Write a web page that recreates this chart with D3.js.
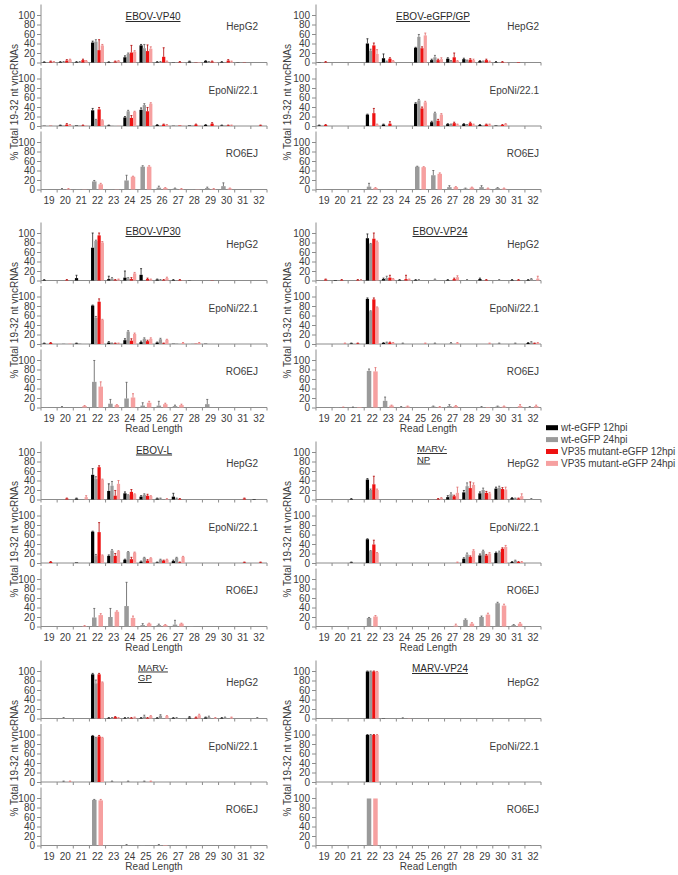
<!DOCTYPE html>
<html><head><meta charset="utf-8">
<script src="https://cdn.jsdelivr.net/npm/d3@7"></script>
<style>body{margin:0;background:#fff}</style>
</head><body><div id="chart"></div>
<script>
// ---------- DATA ----------
const categories = [19,20,21,22,23,24,25,26,27,28,29,30,31,32];
const seriesNames = ["wt-eGFP 12hpi","wt-eGFP 24hpi","VP35 mutant-eGFP 12hpi","VP35 mutant-eGFP 24hpi"];
const cellLines = ["HepG2","EpoNi/22.1","RO6EJ"];
const panelTitles = ["EBOV-VP40","EBOV-eGFP/GP","EBOV-VP30","EBOV-VP24","EBOV-L","MARV-NP","MARV-GP","MARV-VP24"];
const yTicks = [0,20,40,60,80,100];

// values: HepG2 / EpoNi = [wt12, wt24, mut12, mut24]; RO6EJ = [wt24, mut24]
const VP40_HepG2 = [
 [1,1,1,42,1,11,36,1,0.5,2,3,1,0.5,0],
 [0.5,1,1,44,0.5,18,30,1,0.5,1,1,1,0,0],
 [2,4,5,26,2,21,24,12,1,0.5,2,4,0.5,0],
 [1,6,3,36,3,23,29,2,0.5,1,1,2,0,0]];
const VP40_HepG2_err = [
 [0.5,1,1,3,0.5,3,2,1,0,1,1,1,0,0],
 [0,1,1,4,0,2,8,1,0,0,1,0,0,0],
 [1,2,2,22,1,15,13,19,1,0,1,2,0,0],
 [1,1,1,2,1,2,4,1,0,0,0,1,0,0]];
const VP40_EpoNi = [
 [0.5,1,1,33,1,18,34,2,0.5,1,2,1,0,0],
 [0,1,1,13,0.5,31,44,1,0.5,1,1,1,0,0],
 [0.5,3,1,35,0,17,31,3,1,3,5,1,0,1],
 [0,2,1,12,0.5,30,47,2,0.5,1,1,1,0,0]];
const VP40_EpoNi_err = [
 [0,1,0,4,1,2,4,1,0,0,1,1,0,0],
 [0,0,0,1,0,2,3,0,0,0,0,0,0,0],
 [0,2,1,4,0,5,8,1,0,1,2,1,0,1],
 [0,1,0,1,0,1,2,1,0,0,0,1,0,0]];
const VP40_RO6EJ = [
 [0.5,1,1,17,0.5,19,48,4,2,0.5,3,7,0,0],
 [0,1,0.5,11,0.5,27,48,3,1,0.5,1,2,0,0]];
const VP40_RO6EJ_err = [
 [0,1,0,2,0,11,2,3,1,0,2,7,0,0],
 [0,1,0,2,0,1,2,1,1,0,1,1,0,0]];

const GP_HepG2 = [
 [0.5,0,0,40,9,0,31,5,8,7,3,1,0,0],
 [0,0,0,25,2,0,54,11,3,4,2,1,0,0],
 [1,0,0,36,8,0,30,5,11,6,5,1,1,0],
 [0,0,0,18,3,0,57,7,3,5,2,1,0,0]];
const GP_HepG2_err = [
 [0,0,0,10,9,0,1,2,2,2,1,1,0,0],
 [0,0,0,3,1,0,5,4,1,1,1,0,0,0],
 [1,0,0,5,2,0,3,2,9,2,2,1,0,0],
 [0,0,0,9,1,0,5,3,1,2,1,0,0,0]];
const GP_EpoNi = [
 [1,0,0,24,3,0,47,8,4,4,2,1,0,0],
 [0.5,0,0,0.5,0,0,54,27,3,2,1,1,0,0],
 [2,0,0,27,5,0,37,11,6,6,3,2,0,0],
 [0,0,0,3,0,0,50,24,3,3,3,4,0,0]];
const GP_EpoNi_err = [
 [1,0,0,1,1,0,2,2,1,1,1,0,0,0],
 [0,0,0,0,0,0,2,2,1,1,0,0,0,0],
 [1,0,0,10,4,0,3,3,2,2,1,1,0,0],
 [0,0,0,1,0,0,2,2,1,1,1,1,0,0]];
const GP_RO6EJ = [
 [1,0,0,6,0.5,0,48,30,5,2,5,3,0,0],
 [0,0,0,3,0,0,47,33,5,4,2,2,0,0]];
const GP_RO6EJ_err = [
 [0,0,0,7,0,0,1,10,3,1,3,1,0,0],
 [0,0,0,1,0,0,1,2,1,1,1,1,0,0]];

const VP30_HepG2 = [
 [1,0,5,69,3,6,12,2,1,0.5,0,0,0,0],
 [0,0,0,83,4,4,0,1,0,0,0,0,0,0],
 [0,1,0,95,1,3,3,1,1,0,0.5,0,0,0],
 [0,0,0,80,2,15,2,5,0.5,0,0,0,0,0]];
const VP30_HepG2_err = [
 [1,0,6,31,6,14,13,1,1,0,0,0,0,0],
 [0,0,0,2,2,2,0,1,0,0,0,0,0,0],
 [0,1,0,5,1,3,2,1,1,0,0,0,0,0],
 [0,0,0,2,1,2,1,2,0,0,0,0,0,0]];
const VP30_EpoNi = [
 [1,0,1,81,3,8,4,3,0.5,0,0.5,0,0,0],
 [0,1,1,55,1,26,11,10,1,0.5,0,0,0,0],
 [2,0,0,89,1,7,6,1,0,0.5,0,0,0,0],
 [0,1,0,51,1,21,11,9,2,2,0,0,0,0]];
const VP30_EpoNi_err = [
 [1,0,1,1,2,3,2,1,0,0,0,0,0,0],
 [0,0,0,3,1,2,2,2,0,0,0,0,0,0],
 [1,0,0,6,1,4,2,1,0,0,0,0,0,0],
 [0,0,0,1,1,2,2,1,1,1,0,0,0,0]];
const VP30_RO6EJ = [
 [0.5,1,0,54,8,19,4,4,3,0,7,0,0,0],
 [0,0,3,44,5,21,10,7,5,0,0,0,0,0]];
const VP30_RO6EJ_err = [
 [0,1,0,45,9,34,6,9,2,0,10,0,0,0],
 [0,0,1,10,1,8,3,2,2,0,0,0,0,0]];

const VP24_HepG2 = [
 [0,1,0,89,3,1,1,0,1,0,3,0,1,1],
 [0,0,0,77,5,0,1,2,0,1,0,1,0,3],
 [2,1,1,88,6,3,0,0,3,0,1,0,1,0],
 [0,0,1,81,3,2,0,0,7,0,0,0,0,4]];
const VP24_HepG2_err = [
 [0,0,0,9,2,1,1,0,1,0,2,0,1,1],
 [0,0,0,1,4,0,1,1,0,1,0,1,0,1],
 [1,1,1,12,5,8,0,0,2,0,1,0,1,0],
 [0,0,1,2,1,1,0,0,3,0,0,0,0,5]];
const VP24_EpoNi = [
 [0,0,1,95,2,0,0,0,0,0,0,0,0,2],
 [0,0,0,69,3,1,0,1,2,0,0,1,1,3],
 [0,0,1,94,3,0,0,0,0,0,0,0,0,1],
 [0,1,0,77,2,0,1,0,2,0,1,0,0,2]];
const VP24_EpoNi_err = [
 [0,0,1,2,1,0,0,0,0,0,0,0,0,1],
 [0,0,0,1,1,1,0,1,1,0,0,1,1,2],
 [0,0,1,3,1,0,0,0,0,0,0,0,0,1],
 [0,1,0,1,1,0,1,0,1,0,1,0,0,1]];
const VP24_RO6EJ = [
 [0,1,0,77,14,1,0,2,3,0,1,2,1,1],
 [0,0,1,76,4,2,0,1,3,0,1,2,3,3]];
const VP24_RO6EJ_err = [
 [0,0,1,4,8,1,0,1,3,0,1,1,0,1],
 [0,1,0,8,1,1,0,1,1,0,0,1,3,2]];

const L_HepG2 = [
 [0,0,2,52,18,13,6,2,6,0,0,0,0,1],
 [0,0,0,43,29,9,10,2,2,0,0,0,0,0],
 [0,2,0,68,8,16,8,0,1,0,0,0,2,0],
 [0,0,5,42,33,11,7,1,0,0,0,0,0,0]];
const L_HepG2_err = [
 [0,0,1,13,15,3,2,1,7,0,0,0,0,0],
 [0,0,0,5,9,1,2,1,1,0,0,0,0,0],
 [0,1,0,3,11,5,3,0,1,0,0,0,1,0],
 [0,0,3,1,7,1,1,1,0,0,0,0,0,0]];
const L_EpoNi = [
 [0,0,1,66,15,7,3,1,4,0,0,0,0,0],
 [0,0,0,16,26,23,11,7,11,0,0,0,0,0],
 [2,0,0,65,15,8,5,5,1,0,0,0,1,1],
 [0,0,0,16,25,22,10,7,13,0,0,0,0,0]];
const L_EpoNi_err = [
 [0,0,0,1,2,1,1,1,2,0,0,0,0,0],
 [0,0,0,2,2,1,1,1,1,0,0,0,0,0],
 [1,0,0,20,5,4,2,1,1,0,0,0,1,1],
 [0,0,0,1,1,1,1,1,1,0,0,0,0,0]];
const L_RO6EJ = [
 [0,0,0,19,20,43,3,3,4,1,0,0,0,0],
 [0,0,1,24,31,18,6,3,6,0,0,0,0,0]];
const L_RO6EJ_err = [
 [0,0,0,19,18,50,3,2,9,0,0,0,0,0],
 [0,0,1,3,2,4,1,1,1,0,0,0,0,0]];

const NP_HepG2 = [
 [0,0,1,42,0,0,0,0,5,15,13,23,3,0],
 [0,0,0,20,0,0,0,0,11,28,20,25,2,1],
 [0,0,0,32,0,0,0,1,7,24,14,22,2,0],
 [0,0,0,20,0,0,0,3,14,31,13,21,7,0]];
const NP_HepG2_err = [
 [0,0,1,2,0,0,0,0,3,4,3,3,1,0],
 [0,0,0,2,0,0,0,0,3,7,4,3,1,1],
 [0,0,0,17,0,0,0,1,2,13,3,3,1,0],
 [0,0,0,2,0,0,0,1,12,4,2,5,5,0]];
const NP_EpoNi = [
 [0,0,1,50,0,0,0,0,0,9,16,21,2,0],
 [0,0,0,25,0,0,0,0,0,18,25,23,5,0],
 [0,0,0,39,0,0,0,0,0,13,16,30,2,0],
 [0,0,0,21,0,0,0,0,1,26,20,34,2,0]];
const NP_EpoNi_err = [
 [0,0,1,1,0,0,0,0,0,2,3,2,1,0],
 [0,0,0,1,0,0,0,0,0,3,2,2,1,0],
 [0,0,0,9,0,0,0,0,0,2,2,2,1,0],
 [0,0,0,1,0,0,0,0,1,2,2,3,1,0]];
const NP_RO6EJ = [
 [0,0,0,18,1,0,0,0,0,14,20,49,3,0],
 [0,0,0,21,0,0,0,0,2,6,25,44,6,0]];
const NP_RO6EJ_err = [
 [0,0,0,1,0,0,0,0,0,2,2,2,1,0],
 [0,0,0,2,0,0,0,0,3,2,3,3,2,0]];

const MGP_HepG2 = [
 [0,0,0,93,1,1,1,1,1,2,2,1,0,0],
 [0,1,0,74,1,1,4,6,1,0,3,2,0,1],
 [0,0,0,93,3,1,1,0,0,2,0,0,0,0],
 [0,0,0,76,1,2,5,5,0,7,1,2,0,0]];
const MGP_HepG2_err = [
 [0,0,0,2,1,1,1,1,1,2,1,1,0,0],
 [0,1,0,7,1,1,3,2,1,0,2,1,0,1],
 [0,0,0,2,1,1,1,0,0,1,0,0,0,0],
 [0,0,0,1,1,1,1,1,0,2,1,1,0,0]];
const MGP_EpoNi = [
 [0,0,0,97,0,0,0,0,0,0,0,0,0,0],
 [0,1,0,93,1,1,1,0,0,0,0,0,0,0],
 [0,0,0,96,0,0,0,0,0,0,0,0,0,0],
 [0,1,0,93,0,0,1,0,0,0,0,0,0,0]];
const MGP_EpoNi_err = [
 [0,0,0,1,0,0,0,0,0,0,0,0,0,0],
 [0,1,0,1,1,1,1,0,0,0,0,0,0,0],
 [0,0,0,2,0,0,0,0,0,0,0,0,0,0],
 [0,1,0,1,0,0,1,0,0,0,0,0,0,0]];
const MGP_RO6EJ = [
 [0,0,0,96,0,1,1,1,0,0,0,0,0,0],
 [0,0,0,95,0,0,0,1,0,0,0,0,0,0]];
const MGP_RO6EJ_err = [
 [0,0,0,1,0,1,0,1,0,0,0,0,0,0],
 [0,0,0,2,0,0,0,0,0,0,0,0,0,0]];

const MVP24_HepG2 = [
 [0,0,0,99,0.5,0,0,0,0,0,0,0,0,0],
 [0,0,0,99,0,0.5,0,0,0,0,0,0,0,0],
 [0,0,0,99,0,0,0,0,0,0,0,0,0,0],
 [0,0,0,98,0,0.5,0,0,0,0,0,0,0,0]];
const MVP24_HepG2_err = [
 [0,0,0,1,0,0,0,0,0,0,0,0,0,0],
 [0,0,0,1,0,1,0,0,0,0,0,0,0,0],
 [0,0,0,1,0,0,0,0,0,0,0,0,0,0],
 [0,0,0,1,0,0,0,0,0,0,0,0,0,0]];
const MVP24_EpoNi = [
 [0,0,0,99,0,0,0,0,0,0,0,0,0,0],
 [0,0,0,99,0,0,0,0,0,0,0,0,0,0],
 [0,0,0,99,0,0,0,0,0,0,0,0,0,0],
 [0,0,0,99,0,0,0,0,0,0,0,0,0,0]];
const MVP24_EpoNi_err = [
 [0,0,0,1,0,0,0,0,0,0,0,0,0,0],
 [0,0,0,1,0,0,0,0,0,0,0,0,0,0],
 [0,0,0,1,0,0,0,0,0,0,0,0,0,0],
 [0,0,0,1,0,0,0,0,0,0,0,0,0,0]];
const MVP24_RO6EJ = [
 [0,0,0,99,0,0,0,0,0,0,0,0,0,0],
 [0,0,0,99,0,0,0,0,0,0,0,0,0,0]];
const MVP24_RO6EJ_err = [
 [0,0,0,0,0,0,0,0,0,0,0,0,0,0],
 [0,0,0,0,0,0,0,0,0,0,0,0,0,0]];

// ---------- assemble ----------
const panels = [
 {cells:[VP40_HepG2,VP40_EpoNi,VP40_RO6EJ], errs:[VP40_HepG2_err,VP40_EpoNi_err,VP40_RO6EJ_err]},
 {cells:[GP_HepG2,GP_EpoNi,GP_RO6EJ], errs:[GP_HepG2_err,GP_EpoNi_err,GP_RO6EJ_err]},
 {cells:[VP30_HepG2,VP30_EpoNi,VP30_RO6EJ], errs:[VP30_HepG2_err,VP30_EpoNi_err,VP30_RO6EJ_err]},
 {cells:[VP24_HepG2,VP24_EpoNi,VP24_RO6EJ], errs:[VP24_HepG2_err,VP24_EpoNi_err,VP24_RO6EJ_err]},
 {cells:[L_HepG2,L_EpoNi,L_RO6EJ], errs:[L_HepG2_err,L_EpoNi_err,L_RO6EJ_err]},
 {cells:[NP_HepG2,NP_EpoNi,NP_RO6EJ], errs:[NP_HepG2_err,NP_EpoNi_err,NP_RO6EJ_err]},
 {cells:[MGP_HepG2,MGP_EpoNi,MGP_RO6EJ], errs:[MGP_HepG2_err,MGP_EpoNi_err,MGP_RO6EJ_err]},
 {cells:[MVP24_HepG2,MVP24_EpoNi,MVP24_RO6EJ], errs:[MVP24_HepG2_err,MVP24_EpoNi_err,MVP24_RO6EJ_err]}
];

// ---------- layout / style ----------
const W = 678, H = 875;
const FONT = "'Liberation Sans', Arial, sans-serif";
const seriesColors = ["#000000","#9a9a9a","#ee1111","#f6a0a0"];
const errColors = ["#222222","#5a5a5a","#b00000","#e06a6a"];
const axisColor = "#8c8c8c", textColor = "#3c3c3c";
const rowTop = [15, 233, 452, 671];
const subStep = 63.5, subH = 47.5;
const colX = [[41, 267], [316, 541]];
const titleBase = [20, 235, 453.5, 672];
const titleX = [153, 433, 153, 440, 154, 417, 138, 440];
const titleWrap = [false,false,false,false,false,true,true,false];
const labelRight = [258, 539];
const yLabelX = [14, 287];

const svg = d3.select("#chart").append("svg")
  .attr("width", W).attr("height", H)
  .style("font-family", FONT);
svg.append("rect").attr("width", W).attr("height", H).attr("fill", "#fff");

panels.forEach((pd, p) => {
  const col = p % 2, row = Math.floor(p / 2);
  const [x0, x1] = colX[col];
  const x = d3.scaleBand().domain(categories).range([x0, x1]).paddingInner(0.2).paddingOuter(0.1);
  const step = x.step();
  const bw = x.bandwidth();
  const inner4 = d3.scaleBand().domain([0,1,2,3]).range([0, bw]);
  const inner2 = d3.scaleBand().domain([1,3]).range([0, bw]).paddingInner(0.3).paddingOuter(0.15);
  const g = svg.append("g");

  pd.cells.forEach((cell, c) => {
    const top = rowTop[row] + c * subStep;
    const base = top + subH;
    const y = d3.scaleLinear().domain([0, 100]).range([base, top]);

    // y axis
    const ya = g.append("g").attr("transform", `translate(${x0},0)`)
      .call(d3.axisLeft(y).tickValues(yTicks).tickSize(4).tickPadding(2));
    ya.attr("font-family", FONT).attr("font-size", 10);
    ya.select(".domain").remove();
    ya.selectAll(".tick line").attr("stroke", axisColor);
    ya.selectAll(".tick text").attr("fill", textColor);
    g.append("line").attr("x1", x0).attr("x2", x0).attr("y1", base - 58).attr("y2", base)
      .attr("stroke", axisColor).attr("stroke-width", 1);

    // x axis line and boundary ticks
    g.append("line").attr("x1", x0).attr("x2", x1).attr("y1", base).attr("y2", base)
      .attr("stroke", axisColor).attr("stroke-width", 1);
    g.selectAll(null).data(d3.range(categories.length + 1)).join("line")
      .attr("x1", i => x0 + i * step).attr("x2", i => x0 + i * step)
      .attr("y1", base).attr("y2", base + 3)
      .attr("stroke", axisColor).attr("stroke-width", 1);

    // bars
    const series = cell.length === 4 ? [0,1,2,3] : [1,3];
    const inner = cell.length === 4 ? inner4 : inner2;
    series.forEach((s, k) => {
      const data = categories.map((cat, i) => ({cat, v: cell[k][i], e: pd.errs[c][k][i]}));
      g.selectAll(null).data(data).join("rect")
        .attr("x", d => x(d.cat) + inner(s))
        .attr("width", inner.bandwidth())
        .attr("y", d => y(d.v))
        .attr("height", d => base - y(d.v))
        .attr("fill", seriesColors[s]);
      const ed = data.filter(d => d.e > 0);
      const cx = d => x(d.cat) + inner(s) + inner.bandwidth() / 2;
      g.selectAll(null).data(ed).join("line")
        .attr("x1", cx).attr("x2", cx)
        .attr("y1", d => y(d.v)).attr("y2", d => y(d.v + d.e))
        .attr("stroke", errColors[s]).attr("stroke-width", 0.8);
      g.selectAll(null).data(ed).join("line")
        .attr("x1", d => cx(d) - 1).attr("x2", d => cx(d) + 1)
        .attr("y1", d => y(d.v + d.e)).attr("y2", d => y(d.v + d.e))
        .attr("stroke", errColors[s]).attr("stroke-width", 0.8);
    });

    // cell line label
    g.append("text").attr("x", labelRight[col]).attr("y", top + 15)
      .attr("text-anchor", "end").attr("font-size", 10).attr("fill", textColor)
      .text(cellLines[c]);

    // bottom category labels
    if (c === 2) {
      const xa = g.append("g").attr("transform", `translate(0,${base})`)
        .call(d3.axisBottom(x).tickSize(0).tickPadding(7));
      xa.attr("font-family", FONT).attr("font-size", 10);
      xa.select(".domain").remove();
      xa.selectAll(".tick text").attr("fill", textColor);
      if (row > 0) {
        g.append("text").attr("x", (x0 + x1) / 2).attr("y", base + 24.5)
          .attr("text-anchor", "middle").attr("font-size", 10).attr("fill", textColor)
          .text("Read Length");
      }
    }
  });

  // y axis title
  const midY = rowTop[row] + subStep + subH / 2;
  g.append("text")
    .attr("transform", `translate(${yLabelX[col] + 3.5},${midY}) rotate(-90)`)
    .attr("text-anchor", "middle").attr("font-size", 10).attr("fill", textColor)
    .text("% Total 19-32 nt vncRNAs");

  // panel title
  const t = panelTitles[p];
  const lines = titleWrap[p] ? [t.slice(0, 5), t.slice(5)] : [t];
  const lh = 10.5;
  lines.forEach((ln, li) => {
    g.append("text").attr("x", titleX[p])
      .attr("y", titleBase[row] - (titleWrap[p] ? 1.5 : 0) + li * lh)
      .attr("text-anchor", titleWrap[p] ? "start" : "middle")
      .attr("font-size", titleWrap[p] ? 9.5 : 10).attr("fill", "#2a2a2a")
      .style("text-decoration", "underline")
      .text(ln);
  });
});

// legend
const lg = svg.append("g");
seriesNames.forEach((nm, i) => {
  const cy = 427.7 + i * 11.9;
  lg.append("rect").attr("x", 546).attr("y", cy - 2.5).attr("width", 12).attr("height", 5)
    .attr("fill", seriesColors[i]);
  lg.append("text").attr("x", 561).attr("y", cy + 3.5).attr("font-size", 10)
    .attr("fill", textColor).text(nm);
});
</script>
</body></html>
